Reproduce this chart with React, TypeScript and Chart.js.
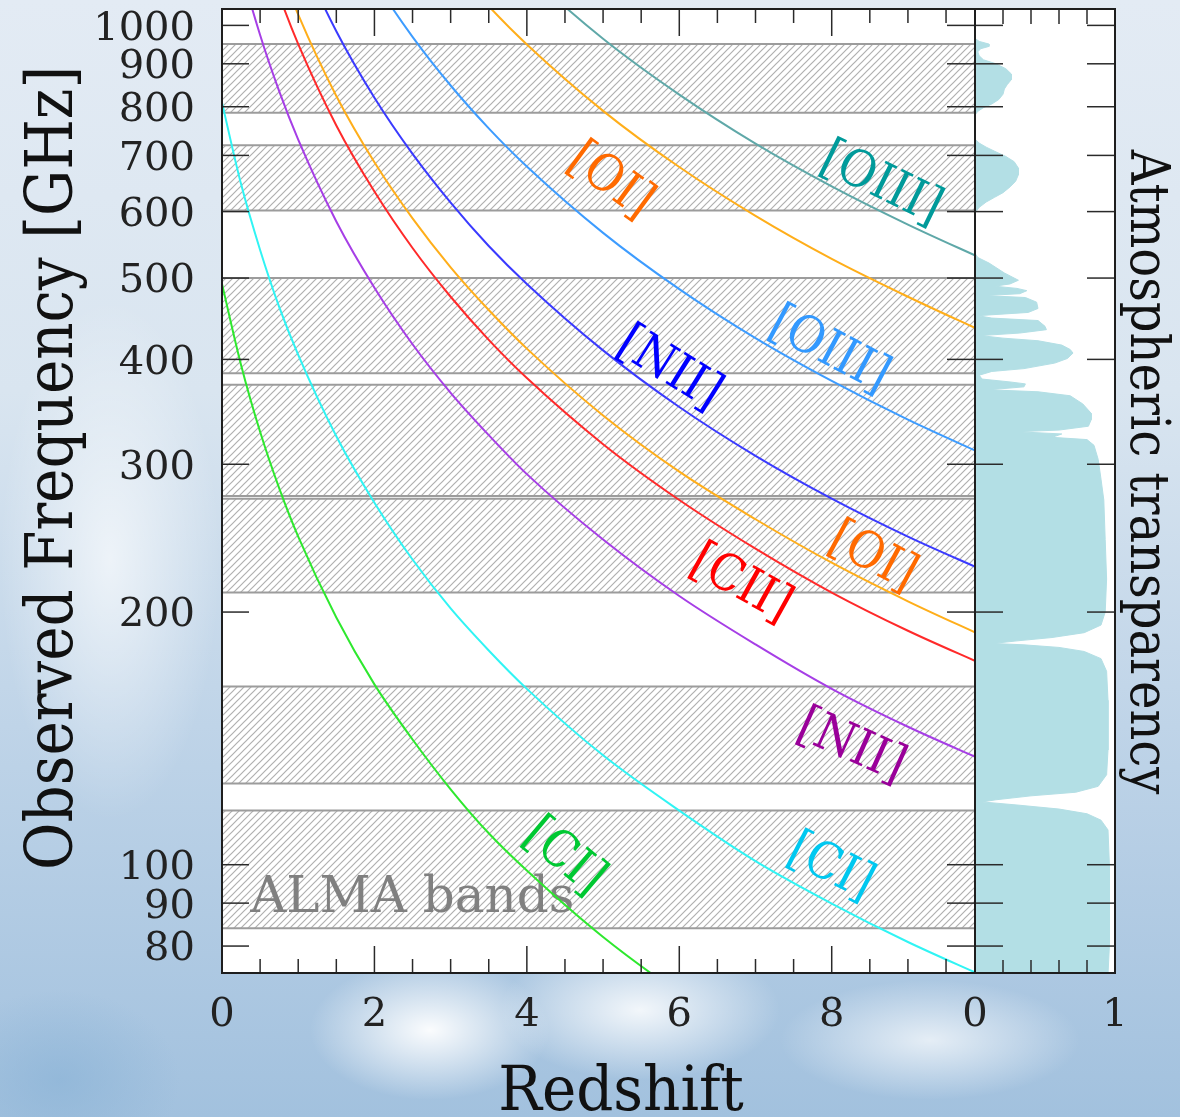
import React, { useEffect, useRef } from 'react';
import { Chart, registerables } from 'chart.js';

Chart.register(...registerables);

const W = 1180;
const H = 1117;
const FONT = '"DejaVu Serif", "Liberation Serif", serif';

// ---------- data ----------
const redshifts = [0, 0.25, 0.5, 0.75, 1, 1.5, 2, 2.5, 3, 3.5, 4, 5, 6, 7, 8, 9, 10];
const ci609 = [492, 394, 328, 281, 246, 197, 164, 141, 123, 109, 98.4, 82.0, 70.3, 61.5, 54.7, 49.2, 44.7];
const ci370 = [809, 647, 540, 462, 405, 324, 270, 231, 202, 180, 162, 135, 116, 101, 89.9, 80.9, 73.6];
const nii205 = [1461, 1169, 974, 835, 731, 584, 487, 417, 365, 325, 292, 244, 209, 183, 162, 146, 133];
const cii158 = [1901, 1520, 1267, 1086, 950, 760, 634, 543, 475, 422, 380, 317, 272, 238, 211, 190, 173];
const oi145 = [2060, 1648, 1373, 1177, 1030, 824, 687, 589, 515, 458, 412, 343, 294, 258, 229, 206, 187];
const nii122 = [2459, 1967, 1639, 1405, 1230, 984, 820, 703, 615, 546, 492, 410, 351, 307, 273, 246, 224];
const oiii88 = [3393, 2714, 2262, 1939, 1697, 1357, 1131, 969, 848, 754, 679, 566, 485, 424, 377, 339, 308];
const oi63 = [4745, 3796, 3163, 2711, 2373, 1898, 1582, 1356, 1186, 1054, 949, 791, 678, 593, 527, 475, 431];
const oiii52 = [5786, 4629, 3857, 3306, 2893, 2314, 1929, 1653, 1447, 1286, 1157, 964, 827, 723, 643, 579, 526];

const yTickValues = [80, 90, 100, 200, 300, 400, 500, 600, 700, 800, 900, 1000];
const xTickValues = [0, 2, 4, 6, 8];
const atmTickValues = [0, 1];

const almaBandLow = [84, 125, 211, 275, 385, 602, 787];
const almaBandHigh = [116, 163, 273, 373, 500, 720, 950];

const atmFreq = [
  1047, 965, 957, 950, 944, 938, 930, 920, 910, 900, 888, 875, 862, 850, 840, 828, 816, 806, 798, 790, 782,
  732, 724, 716, 708, 698, 688, 676, 664, 652, 642, 632, 624, 616, 607, 598,
  535, 529, 521, 507, 497, 492, 489, 486, 483, 479, 476.5, 474, 468, 460, 455, 451, 448, 445, 438, 434, 430,
  427, 424, 421, 416, 411, 407, 401, 396, 390, 387, 383, 379, 376, 374, 371, 368, 366, 362, 354, 345, 339,
  333, 329.5, 328, 326, 323, 321, 316, 304, 288, 272, 244, 219, 200, 193, 189, 186.5, 184.8, 183.5, 182.8,
  181.5, 179.5, 176, 170, 157, 137, 128, 124, 122, 120.8, 119.5, 118.8, 117.8, 116.5, 115, 113, 110, 100, 90, 80, 74,
];
const atmTrans = [
  0, 0, 0.03, 0.1, 0.1, 0.04, 0.02, 0.03, 0.06, 0.15, 0.22, 0.26, 0.26, 0.23, 0.21, 0.2, 0.17, 0.12, 0.06, 0.02, 0,
  0, 0.03, 0.08, 0.14, 0.22, 0.28, 0.31, 0.31, 0.29, 0.25, 0.2, 0.14, 0.08, 0.03, 0,
  0, 0.02, 0.1, 0.21, 0.31, 0.25, 0.14, 0.3, 0.37, 0.32, 0.07, 0.36, 0.44, 0.45, 0.38, 0.02, 0.12, 0.45, 0.5, 0.51, 0.32,
  0.04, 0.2, 0.45, 0.62, 0.68, 0.7, 0.66, 0.57, 0.35, 0.12, 0.03, 0.05, 0.25, 0.36, 0.35, 0.1, 0.45, 0.68, 0.77, 0.83, 0.83,
  0.81, 0.6, 0.3, 0.62, 0.55, 0.8, 0.85, 0.88, 0.9, 0.92, 0.93, 0.94, 0.93, 0.9, 0.78, 0.55, 0.3, 0.13, 0.35,
  0.6, 0.78, 0.9, 0.94, 0.95, 0.95, 0.94, 0.88, 0.72, 0.4, 0.15, 0.05, 0.3, 0.6, 0.8, 0.9, 0.95, 0.96, 0.96, 0.96, 0.95,
];

// ---------- styles ----------
const lineSeries = [
  { name: '[CI] 609um', values: ci609, color: '#2ee82e' },
  { name: '[CI] 370um', values: ci370, color: '#30f4f4' },
  { name: '[NII] 205um', values: nii205, color: '#a63ee6' },
  { name: '[CII] 158um', values: cii158, color: '#ff2a2a' },
  { name: '[OI] 145um', values: oi145, color: '#ffae1a' },
  { name: '[NII] 122um', values: nii122, color: '#3a3aff' },
  { name: '[OIII] 88um', values: oiii88, color: '#3d9cff' },
  { name: '[OI] 63um', values: oi63, color: '#ffae1a' },
  { name: '[OIII] 52um', values: oiii52, color: '#5fa8a8' },
];

const lineLabels = [
  { text: '[OIII]', z: 8.64, f: 646, angle: 26, color: '#009a9a' },
  { text: '[OI]', z: 5.09, f: 651, angle: 36, color: '#ff6a00' },
  { text: '[OIII]', z: 7.96, f: 409, angle: 28, color: '#3399ff' },
  { text: '[NII]', z: 5.86, f: 389, angle: 32, color: '#0000ff' },
  { text: '[OI]', z: 8.53, f: 232, angle: 28, color: '#ff6a00' },
  { text: '[CII]', z: 6.8, f: 215.5, angle: 29, color: '#ff0000' },
  { text: '[NII]', z: 8.25, f: 138, angle: 24, color: '#990099' },
  { text: '[CI]', z: 7.98, f: 99, angle: 27, color: '#00c8f0' },
  { text: '[CI]', z: 4.48, f: 102, angle: 40, color: '#00c832' },
];

const PLOT_LEFT = 222;
const PLOT_SPLIT = 975;
const PLOT_RIGHT = 1115;
const PLOT_TOP = 9;
const PLOT_BOTTOM = 973;

const BG = [
  'radial-gradient(ellipse 120px 70px at 430px 1030px, rgba(255,255,255,0.95), rgba(255,255,255,0) 100%)',
  'radial-gradient(ellipse 140px 70px at 640px 1010px, rgba(255,255,255,0.85), rgba(255,255,255,0) 100%)',
  'radial-gradient(ellipse 150px 60px at 930px 1040px, rgba(255,255,255,0.7), rgba(255,255,255,0) 100%)',
  'radial-gradient(ellipse 110px 260px at 110px 560px, rgba(255,255,255,0.65), rgba(255,255,255,0) 100%)',
  'radial-gradient(ellipse 120px 90px at 60px 1080px, rgba(140,180,215,0.7), rgba(140,180,215,0) 100%)',
  'linear-gradient(180deg, #e3ebf4 0%, #d9e5f0 35%, #bfd4e8 65%, #a2c1de 100%)',
].join(',');

function makeHatch(): CanvasPattern | string {
  const pc = document.createElement('canvas');
  pc.width = 7;
  pc.height = 7;
  const p = pc.getContext('2d');
  if (!p) return '#eee';
  p.fillStyle = '#ffffff';
  p.fillRect(0, 0, 7, 7);
  p.strokeStyle = '#b0b0b0';
  p.lineWidth = 1.2;
  p.beginPath();
  p.moveTo(-1, 8);
  p.lineTo(8, -1);
  p.moveTo(-1, 1);
  p.lineTo(1, -1);
  p.moveTo(6, 8);
  p.lineTo(8, 6);
  p.stroke();
  const pat = p.createPattern(pc, 'repeat');
  return pat || '#eee';
}

function seg(ctx: CanvasRenderingContext2D, x1: number, y1: number, x2: number, y2: number) {
  ctx.beginPath();
  ctx.moveTo(x1, y1);
  ctx.lineTo(x2, y2);
  ctx.stroke();
}

function rotText(
  ctx: CanvasRenderingContext2D,
  text: string,
  x: number,
  y: number,
  deg: number,
  font: string,
  color: string,
  baseline: CanvasTextBaseline = 'middle',
  stretch = 1,
) {
  ctx.save();
  ctx.translate(x, y);
  ctx.rotate((deg * Math.PI) / 180);
  ctx.scale(1, stretch);
  ctx.font = font;
  ctx.fillStyle = color;
  ctx.textAlign = 'center';
  ctx.textBaseline = baseline;
  ctx.fillText(text, 0, 0);
  ctx.restore();
}

const mainPlugin = {
  id: 'mainDecor',
  beforeDatasetsDraw(chart: any) {
    const { ctx, chartArea: a, scales } = chart;
    const y = scales.y;
    const x = scales.x;
    ctx.save();
    ctx.fillStyle = '#ffffff';
    ctx.fillRect(a.left, a.top, a.right - a.left, a.bottom - a.top);
    const pat = makeHatch();
    for (let i = 0; i < almaBandLow.length; i++) {
      const top = y.getPixelForValue(almaBandHigh[i]);
      const bot = y.getPixelForValue(almaBandLow[i]);
      ctx.fillStyle = pat;
      ctx.fillRect(a.left, top, a.right - a.left, bot - top);
      ctx.strokeStyle = '#9c9c9c';
      ctx.lineWidth = 2;
      seg(ctx, a.left, top, a.right, top);
      seg(ctx, a.left, bot, a.right, bot);
    }
    ctx.font = `50px ${FONT}`;
    ctx.fillStyle = '#808080';
    ctx.textAlign = 'left';
    ctx.textBaseline = 'alphabetic';
    ctx.fillText('ALMA bands', x.getPixelForValue(0.37), y.getPixelForValue(87.8));
    ctx.restore();
  },
  afterDatasetsDraw(chart: any) {
    const { ctx, chartArea: a, scales } = chart;
    const y = scales.y;
    const x = scales.x;
    ctx.save();
    for (const l of lineLabels) {
      rotText(ctx, l.text, x.getPixelForValue(l.z), y.getPixelForValue(l.f), l.angle, `46px ${FONT}`, l.color, 'middle', 1.1);
    }
    ctx.strokeStyle = '#2a2a2a';
    ctx.lineWidth = 1.5;
    for (const v of yTickValues) {
      const py = y.getPixelForValue(v);
      seg(ctx, a.left, py, a.left + 27, py);
      seg(ctx, a.right - 28, py, a.right, py);
    }
    for (let i = 0; i <= 20; i++) {
      const v = i * 0.5;
      if (v > x.max) break;
      const px = x.getPixelForValue(v);
      const len = i % 4 === 0 ? 27 : 14;
      seg(ctx, px, a.bottom, px, a.bottom - len);
      seg(ctx, px, a.top, px, a.top + len);
    }
    ctx.strokeStyle = '#1e1e1e';
    ctx.lineWidth = 2;
    ctx.strokeRect(a.left, a.top, a.right - a.left, a.bottom - a.top);
    ctx.restore();
  },
  afterDraw(chart: any) {
    const { ctx } = chart;
    rotText(ctx, 'Observed Frequency [GHz]', 72, 468, -90, `58px ${FONT}`, '#111', 'alphabetic', 1.13);
    rotText(ctx, 'Redshift', 621, 1110, 0, `58px ${FONT}`, '#111', 'alphabetic', 1.05);
  },
};

const atmPlugin = {
  id: 'atmDecor',
  beforeDatasetsDraw(chart: any) {
    const { ctx, chartArea: a } = chart;
    ctx.save();
    ctx.fillStyle = '#ffffff';
    ctx.fillRect(a.left, a.top, a.right - a.left, a.bottom - a.top);
    ctx.restore();
  },
  afterDatasetsDraw(chart: any) {
    const { ctx, chartArea: a, scales } = chart;
    const y = scales.y;
    const x = scales.x;
    ctx.save();
    ctx.strokeStyle = '#2a2a2a';
    ctx.lineWidth = 1.5;
    for (const v of yTickValues) {
      const py = y.getPixelForValue(v);
      seg(ctx, a.left, py, a.left + 28, py);
      seg(ctx, a.right - 28, py, a.right, py);
    }
    for (let i = 1; i < 5; i++) {
      const px = x.getPixelForValue(i * 0.2);
      seg(ctx, px, a.bottom, px, a.bottom - 13);
      seg(ctx, px, a.top, px, a.top + 15);
    }
    ctx.strokeStyle = '#1e1e1e';
    ctx.lineWidth = 2;
    ctx.strokeRect(a.left, a.top, a.right - a.left, a.bottom - a.top);
    ctx.restore();
  },
  afterDraw(chart: any) {
    const { ctx } = chart;
    rotText(ctx, 'Atmospheric transparency', 1131, 472, 90, `48px ${FONT}`, '#111', 'alphabetic', 1.12);
  },
};

const tickFont = { family: FONT, size: 40 };

export default function App() {
  const mainRef = useRef<HTMLCanvasElement>(null);
  const atmRef = useRef<HTMLCanvasElement>(null);

  useEffect(() => {
    if (!mainRef.current || !atmRef.current) return;
    const main = new Chart(mainRef.current, {
      type: 'line',
      data: {
        datasets: lineSeries.map((s) => ({
          label: s.name,
          data: redshifts.map((z, i) => ({ x: z, y: s.values[i] })),
          borderColor: s.color,
          backgroundColor: s.color,
          borderWidth: 2,
          pointRadius: 0,
          fill: false,
          cubicInterpolationMode: 'monotone' as const,
        })),
      },
      options: {
        responsive: false,
        animation: false,
        devicePixelRatio: 1,
        events: [],
        layout: { padding: { left: 0, right: W - PLOT_SPLIT, top: PLOT_TOP, bottom: 0 } },
        plugins: { legend: { display: false }, tooltip: { enabled: false }, title: { display: false } },
        scales: {
          x: {
            type: 'linear',
            min: 0,
            max: 9.88,
            grid: { display: false, drawTicks: false },
            border: { display: false },
            ticks: { autoSkip: false, maxRotation: 0, padding: 19, color: '#222', font: tickFont, callback: (v: any) => String(v) },
            afterBuildTicks: (s: any) => { s.ticks = xTickValues.map((v) => ({ value: v })); },
            afterFit: (s: any) => { s.height = H - PLOT_BOTTOM; s.paddingLeft = 0; s.paddingRight = 0; },
          },
          y: {
            type: 'logarithmic',
            min: 74.3,
            max: 1046,
            grid: { display: false, drawTicks: false },
            border: { display: false },
            ticks: { autoSkip: false, padding: 27, labelOffset: 4, color: '#222', font: tickFont, callback: (v: any) => String(v) },
            afterBuildTicks: (s: any) => { s.ticks = yTickValues.map((v) => ({ value: v })); },
            afterFit: (s: any) => { s.width = PLOT_LEFT; s.paddingTop = 0; s.paddingBottom = 0; },
          },
        },
      } as any,
      plugins: [mainPlugin],
    });

    const atm = new Chart(atmRef.current, {
      type: 'line',
      data: {
        datasets: [
          {
            label: 'Atmospheric transparency',
            data: atmFreq.map((f, i) => ({ x: atmTrans[i], y: f })),
            borderColor: '#b3dfe5',
            backgroundColor: '#b3dfe5',
            borderWidth: 1,
            pointRadius: 0,
            tension: 0,
            fill: 'origin',
          },
        ],
      },
      options: {
        indexAxis: 'y',
        responsive: false,
        animation: false,
        devicePixelRatio: 1,
        events: [],
        layout: { padding: { left: PLOT_SPLIT, right: W - PLOT_RIGHT, top: PLOT_TOP, bottom: 0 } },
        plugins: { legend: { display: false }, tooltip: { enabled: false }, title: { display: false } },
        scales: {
          x: {
            type: 'linear',
            min: 0,
            max: 1,
            grid: { display: false, drawTicks: false },
            border: { display: false },
            ticks: { autoSkip: false, maxRotation: 0, padding: 19, color: '#222', font: tickFont, callback: (v: any) => String(v) },
            afterBuildTicks: (s: any) => { s.ticks = atmTickValues.map((v) => ({ value: v })); },
            afterFit: (s: any) => { s.height = H - PLOT_BOTTOM; s.paddingLeft = 0; s.paddingRight = 0; },
          },
          y: {
            type: 'logarithmic',
            display: false,
            min: 74.3,
            max: 1046,
          },
        },
      } as any,
      plugins: [atmPlugin],
    });

    return () => {
      main.destroy();
      atm.destroy();
    };
  }, []);

  return (
    <div style={{ position: 'absolute', left: 0, top: 0, width: W, height: H, overflow: 'hidden', background: BG }}>
      <canvas ref={mainRef} width={W} height={H} style={{ position: 'absolute', left: 0, top: 0, width: W, height: H }} />
      <canvas ref={atmRef} width={W} height={H} style={{ position: 'absolute', left: 0, top: 0, width: W, height: H }} />
    </div>
  );
}
